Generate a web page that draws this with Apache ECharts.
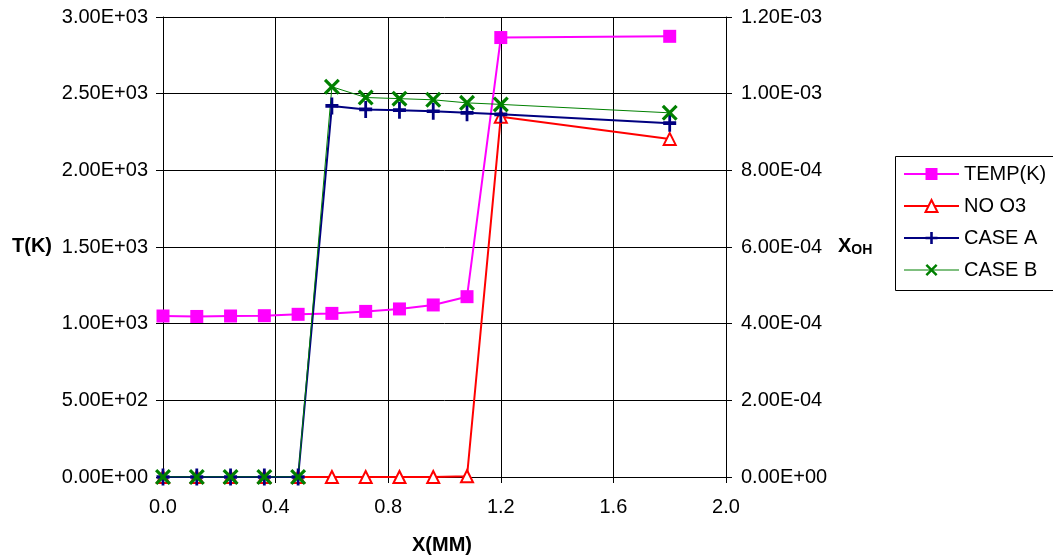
<!DOCTYPE html>
<html>
<head>
<meta charset="utf-8">
<script src="https://cdn.jsdelivr.net/npm/echarts@6/dist/echarts.min.js"></script>
<style>
  html, body { margin: 0; padding: 0; background: #fff; }
  #chart { width: 1053px; height: 559px; }
</style>
</head>
<body>
<div id="chart"></div>
<script>
// Distance from the burner surface, mm
const xPos = [0, 0.12, 0.24, 0.36, 0.48, 0.6, 0.72, 0.84, 0.96, 1.08, 1.2, 1.8];
// Gas temperature, K (left axis)
const tempK = [1050, 1047, 1050, 1052, 1061, 1067, 1080, 1096, 1122, 1176, 2866, 2874];
// OH mole fraction (right axis)
const noO3 = [0, 0, 0, 0, 0, 0, 0, 0, 0, 2e-6, 9.40e-4, 8.82e-4];
const caseA = [0, 0, 0, 0, 0, 9.68e-4, 9.59e-4, 9.57e-4, 9.54e-4, 9.50e-4, 9.46e-4, 9.23e-4];
const caseB = [0, 0, 0, 0, 0, 1.018e-3, 9.90e-4, 9.87e-4, 9.84e-4, 9.76e-4, 9.72e-4, 9.50e-4];
const seriesNames = ['TEMP(K)', 'NO O3', 'CASE A', 'CASE B'];

const FONT = '"Liberation Sans", Arial, sans-serif';
const FS = 20;

// Excel-style scientific labels: 2.50E+03, 4.00E-04
function sci(v) {
  if (v === 0) return '0.00E+00';
  const s = v.toExponential(2).split('e');
  const exp = parseInt(s[1], 10);
  const sign = exp < 0 ? '-' : '+';
  const e = String(Math.abs(exp)).padStart(2, '0');
  return s[0] + 'E' + sign + e;
}

const pairs = arr => xPos.map((x, i) => [x, arr[i]]);

const PLUS = 'path://M5.5,0L8.5,0L8.5,5.5L14,5.5L14,8.5L8.5,8.5L8.5,14L5.5,14L5.5,8.5L0,8.5L0,5.5L5.5,5.5Z';
const CROSS = 'path://M0,2L2,0L7,5L12,0L14,2L9,7L14,12L12,14L7,9L2,14L0,12L5,7Z';

const lineColors = ['#ff00ff', '#ff0000', '#000080', '#008000'];
const lineWidths = [2, 2, 2, 1];

const chart = echarts.init(document.getElementById('chart'), null, { renderer: 'canvas' });

chart.setOption({
  animation: false,
  backgroundColor: '#ffffff',
  textStyle: { fontFamily: FONT },
  grid: { left: 163, right: 327, top: 17, bottom: 82, containLabel: false },
  xAxis: {
    type: 'value', min: 0, max: 2, interval: 0.4,
    axisLine: { show: true, onZero: false, lineStyle: { color: '#000', width: 1 } },
    axisTick: { show: true, inside: false, length: 6, lineStyle: { color: '#000' } },
    axisLabel: { color: '#000', fontSize: FS, fontFamily: FONT, margin: 20,
      formatter: v => v.toFixed(1) },
    splitLine: { show: true, lineStyle: { color: '#000', width: 1 } }
  },
  yAxis: [
    {
      type: 'value', min: 0, max: 3000, interval: 500, position: 'left',
      axisLine: { show: true, lineStyle: { color: '#000', width: 1 } },
      axisTick: { show: true, inside: false, length: 7, lineStyle: { color: '#000' } },
      axisLabel: { color: '#000', fontSize: FS, fontFamily: FONT, margin: 15, formatter: sci },
      splitLine: { show: true, lineStyle: { color: '#000', width: 1 } }
    },
    {
      type: 'value', min: 0, max: 1.2e-3, interval: 2e-4, position: 'right',
      axisLine: { show: true, lineStyle: { color: '#000', width: 1 } },
      axisTick: { show: true, inside: false, length: 6, lineStyle: { color: '#000' } },
      axisLabel: { color: '#000', fontSize: FS, fontFamily: FONT, margin: 15, formatter: sci },
      splitLine: { show: false }
    }
  ],
  legend: {
    orient: 'vertical',
    left: 895, top: 156,
    data: seriesNames.map((n, i) => ({
      name: n,
      lineStyle: { color: lineColors[i], width: lineWidths[i] }
    })),
    itemWidth: 55, itemHeight: 15, itemGap: 12,
    padding: [8, 10, 10, 8],
    z: 10,
    textStyle: { color: '#000', fontSize: FS, fontFamily: FONT },
    selectedMode: false
  },
  graphic: [
    // legend frame, running past the right edge of the canvas
    { type: 'rect', z: 5, silent: true,
      shape: { x: 895.5, y: 156.5, width: 200, height: 134 },
      style: { fill: '#fff', stroke: '#000', lineWidth: 1 } },
    { type: 'text', left: 12, top: 236,
      style: { text: 'T(K)', font: 'bold ' + FS + 'px ' + FONT, fill: '#000' } },
    { type: 'text', left: 838, top: 236,
      style: { text: '{a|X}{b|OH}', fill: '#000',
        rich: {
          a: { font: 'bold ' + FS + 'px ' + FONT, fill: '#000' },
          b: { font: 'bold 14px ' + FONT, fill: '#000', padding: [8, 0, 0, 0] }
        } } },
    { type: 'text', left: 412, top: 535,
      style: { text: 'X(MM)', font: 'bold ' + FS + 'px ' + FONT, fill: '#000' } }
  ],
  series: [
    {
      name: 'TEMP(K)', type: 'line', yAxisIndex: 0, data: pairs(tempK),
      symbol: 'rect', symbolSize: 13,
      lineStyle: { color: lineColors[0], width: lineWidths[0] },
      itemStyle: { color: '#ff00ff' }
    },
    {
      name: 'NO O3', type: 'line', yAxisIndex: 1, data: pairs(noO3),
      symbol: 'triangle', symbolSize: 12,
      lineStyle: { color: lineColors[1], width: lineWidths[1] },
      itemStyle: { color: '#ffffff', borderColor: '#ff0000', borderWidth: 2 }
    },
    {
      name: 'CASE A', type: 'line', yAxisIndex: 1, data: pairs(caseA),
      symbol: PLUS, symbolSize: [13, 17],
      lineStyle: { color: lineColors[2], width: lineWidths[2] },
      itemStyle: { color: '#000080' }
    },
    {
      name: 'CASE B', type: 'line', yAxisIndex: 1, data: pairs(caseB),
      symbol: CROSS, symbolSize: 16,
      lineStyle: { color: lineColors[3], width: lineWidths[3] },
      itemStyle: { color: '#008000' }
    }
  ]
});
</script>
</body>
</html>
